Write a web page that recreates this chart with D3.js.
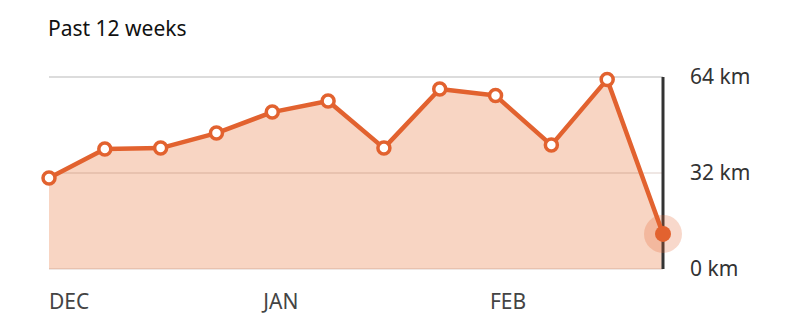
<!DOCTYPE html>
<html>
<head>
<meta charset="utf-8">
<script src="https://cdn.jsdelivr.net/npm/d3@7"></script>
<style>
  body { margin: 0; background: #fff; }
  svg { display: block; font-family: "Noto Sans", sans-serif; }
</style>
</head>
<body>
<svg id="chart" width="800" height="322"></svg>
<script>
// weekly distance, km
var weeks = [0, 1, 2, 3, 4, 5, 6, 7, 8, 9, 10, 11];
var distances = [30.3, 40, 40.3, 45.3, 52.3, 56, 40.3, 60, 57.8, 41.3, 63.2, 11.7];
var yTicks = [0, 32, 64];
var monthLabels = ["DEC", "JAN", "FEB"];
var monthWeeks = [0, 3.84, 7.9];

var orange = "#e2622f";
var svg = d3.select("#chart");

var x = d3.scaleLinear().domain([0, 11]).range([49, 663]);
var y = d3.scaleLinear().domain([0, 64]).range([269, 77]);

var data = weeks.map(function(w, i) { return { week: w, km: distances[i] }; });

svg.append("text")
    .attr("x", 48)
    .attr("y", 36)
    .style("font-size", "21px")
    .style("fill", "#111")
    .text("Past 12 weeks");

// top gridline sits behind everything
svg.append("line")
    .attr("x1", x(0)).attr("x2", x(11))
    .attr("y1", y(64)).attr("y2", y(64))
    .style("stroke", "#dcdcdc")
    .style("stroke-width", 2);

var area = d3.area()
    .x(function(d) { return x(d.week); })
    .y0(y(0))
    .y1(function(d) { return y(d.km); });

svg.append("path")
    .datum(data)
    .attr("d", area)
    .style("fill", "#f8d5c3");

// other gridlines drawn over the fill
svg.append("g")
    .selectAll("line")
    .data(yTicks.filter(function(t) { return t < 64; }))
    .enter().append("line")
    .attr("x1", x(0)).attr("x2", x(11))
    .attr("y1", function(d) { return y(d); })
    .attr("y2", function(d) { return y(d); })
    .style("stroke", "rgba(120,60,30,0.12)")
    .style("stroke-width", 2);

// current week marker
svg.append("line")
    .attr("x1", x(11)).attr("x2", x(11))
    .attr("y1", y(64)).attr("y2", y(0))
    .style("stroke", "#333")
    .style("stroke-width", 3);

var line = d3.line()
    .x(function(d) { return x(d.week); })
    .y(function(d) { return y(d.km); });

svg.append("path")
    .datum(data)
    .attr("d", line)
    .style("fill", "none")
    .style("stroke", orange)
    .style("stroke-width", 4.5)
    .style("stroke-linejoin", "round");

svg.append("g")
    .selectAll("circle")
    .data(data.slice(0, -1))
    .enter().append("circle")
    .attr("cx", function(d) { return x(d.week); })
    .attr("cy", function(d) { return y(d.km); })
    .attr("r", 6)
    .style("fill", "#fff")
    .style("stroke", orange)
    .style("stroke-width", 3.5);

var last = data[data.length - 1];
svg.append("circle")
    .attr("cx", x(last.week))
    .attr("cy", y(last.km))
    .attr("r", 19)
    .style("fill", orange)
    .style("fill-opacity", 0.25);
svg.append("circle")
    .attr("cx", x(last.week))
    .attr("cy", y(last.km))
    .attr("r", 8)
    .style("fill", orange);

// y labels
svg.append("g")
    .selectAll("text")
    .data(yTicks)
    .enter().append("text")
    .attr("x", 690)
    .attr("y", function(d) { return y(d); })
    .attr("dy", "0.35em")
    .style("font-size", "21px")
    .style("fill", "#333")
    .text(function(d) { return d + " km"; });

// month labels
svg.append("g")
    .selectAll("text")
    .data(monthLabels)
    .enter().append("text")
    .attr("x", function(d, i) { return x(monthWeeks[i]); })
    .attr("y", 309)
    .style("font-size", "21px")
    .style("fill", "#444")
    .text(function(d) { return d; });
</script>
</body>
</html>
